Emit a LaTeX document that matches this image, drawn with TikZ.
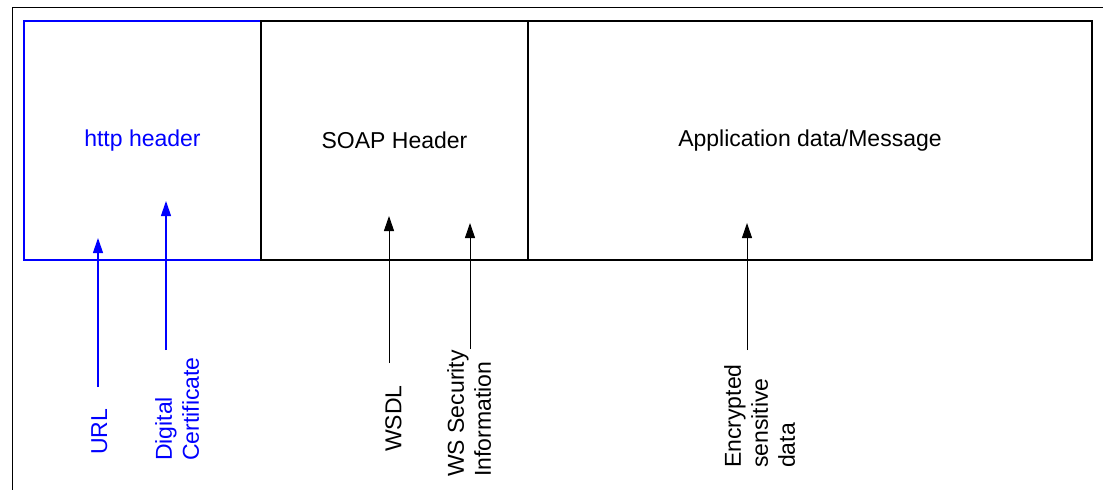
\documentclass[tikz,border=0pt]{standalone}
\usepackage{fontspec}
\setmainfont{Liberation Sans}
\usetikzlibrary{arrows.meta}
\definecolor{hdrblue}{RGB}{0,0,255}
\begin{document}
\begin{tikzpicture}[x=1pt,y=-1pt,
  every node/.style={font=\fontsize{23}{27}\selectfont},
  segbox/.style={draw, line width=1.2pt, minimum height=239pt, inner sep=0pt,
                 outer sep=0pt, anchor=north west},
  vlabel/.style={rotate=90, anchor=north west, inner sep=0pt, align=left},
  blueptr/.style={draw=hdrblue, line width=1.2pt, -{Triangle[length=15pt,width=10pt]}},
  blackptr/.style={draw=black, line width=1pt, -{Triangle[length=15pt,width=10pt]}}]
  \useasboundingbox (0,0) rectangle (1103,490);

  % outer frame (top and left edges)
  \draw[line width=1pt] (1103,7) -- (12,7) -- (12,490);

  % message segments
  \node[segbox, draw=hdrblue, text=hdrblue, line width=1.5pt, minimum width=237pt]
    (http) at (24,21) {http header};
  \node[segbox, minimum width=267pt] (soap) at (261,21) {SOAP Header};
  \node[segbox, minimum width=564pt] (app) at (528,21) {Application data/Message};

  % vertical labels
  \node[vlabel, text=hdrblue] (url) at (91,455) {URL};
  \node[vlabel, text=hdrblue] (cert) at (155,461) {Digital\\Certificate};
  \node[vlabel] (wsdl) at (385,452) {WSDL};
  \node[vlabel] (wssec) at (447,477) {WS Security\\Information};
  \node[vlabel] (enc) at (724,468) {Encrypted\\sensitive\\data};

  % pointer ends
  \coordinate (urlFoot) at (98,387);   \coordinate (urlTip) at (98,238);
  \coordinate (certFoot) at (166,350); \coordinate (certTip) at (166,201);
  \coordinate (wsdlFoot) at (389,363); \coordinate (wsdlTip) at (389,216);
  \coordinate (secFoot) at (470,349);  \coordinate (secTip) at (470,223);
  \coordinate (encFoot) at (747,350);  \coordinate (encTip) at (747,223);

  % pointers
  \draw[blueptr] (urlFoot) -- (urlTip);
  \draw[blueptr] (certFoot) -- (certTip);
  \draw[blackptr] (wsdlFoot) -- (wsdlTip);
  \draw[blackptr] (secFoot) -- (secTip);
  \draw[blackptr] (encFoot) -- (encTip);
\end{tikzpicture}
\end{document}
